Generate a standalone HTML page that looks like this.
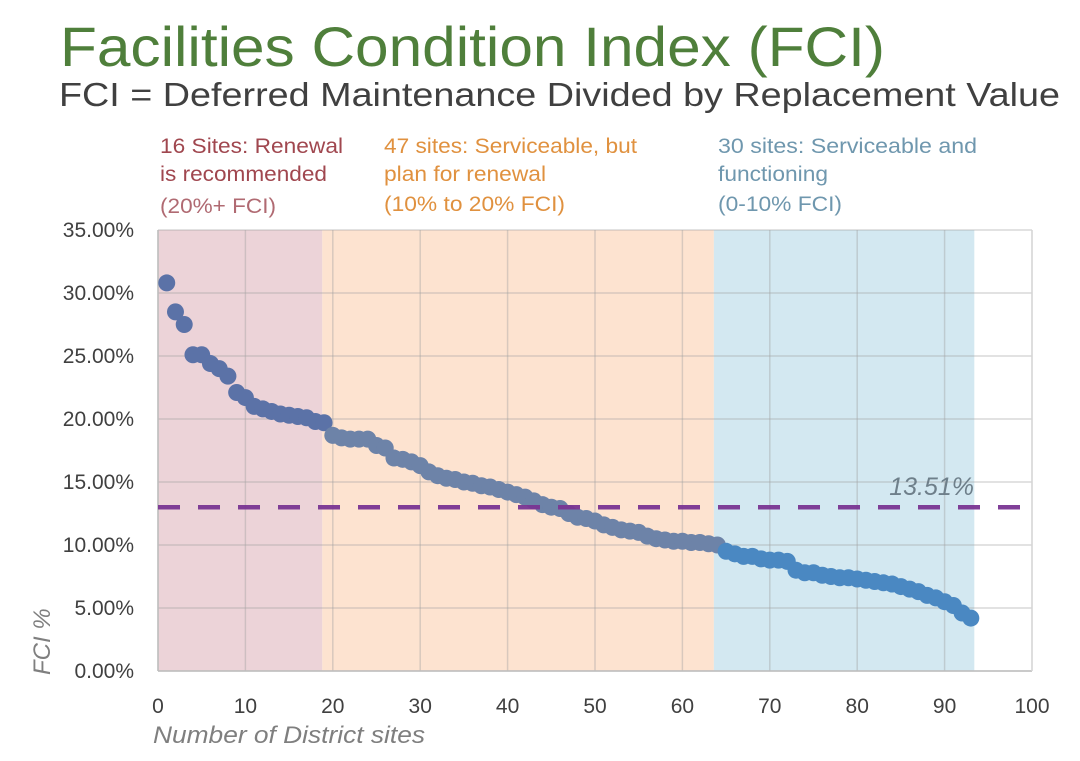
<!DOCTYPE html>
<html><head><meta charset="utf-8"><style>
body{margin:0;background:#fff;width:1080px;height:756px;overflow:hidden;font-family:"Liberation Sans",sans-serif}
</style></head><body>
<svg width="1080" height="756" font-family="Liberation Sans, sans-serif">
<text x="60" y="66" font-size="56" fill="#4f7f3b" textLength="825" lengthAdjust="spacingAndGlyphs">Facilities Condition Index (FCI)</text>
<text x="59" y="106" font-size="33" fill="#404040" textLength="1001" lengthAdjust="spacingAndGlyphs">FCI = Deferred Maintenance Divided by Replacement Value</text>
<g font-size="21">
<text x="160" y="153" fill="#a0474f"><tspan x="160" textLength="183" lengthAdjust="spacingAndGlyphs">16 Sites: Renewal</tspan><tspan x="160" dy="28" textLength="167" lengthAdjust="spacingAndGlyphs">is recommended</tspan><tspan x="160" dy="32" fill="#b06a72" textLength="116" lengthAdjust="spacingAndGlyphs">(20%+ FCI)</tspan></text>
<text x="384" y="153" fill="#e0913f"><tspan x="384" textLength="253" lengthAdjust="spacingAndGlyphs">47 sites: Serviceable, but</tspan><tspan x="384" dy="28" textLength="162" lengthAdjust="spacingAndGlyphs">plan for renewal</tspan><tspan x="384" dy="30" textLength="181" lengthAdjust="spacingAndGlyphs">(10% to 20% FCI)</tspan></text>
<text x="718" y="153" fill="#6f97ae"><tspan x="718" textLength="259" lengthAdjust="spacingAndGlyphs">30 sites:  Serviceable and</tspan><tspan x="718" dy="28" textLength="110" lengthAdjust="spacingAndGlyphs">functioning</tspan><tspan x="718" dy="30" textLength="124" lengthAdjust="spacingAndGlyphs">(0-10% FCI)</tspan></text>
</g>
<g id="plot"></g>
<text x="153" y="743" font-size="24" font-style="italic" fill="#7f7f7f" textLength="272" lengthAdjust="spacingAndGlyphs">Number of District sites</text>
<text transform="translate(50,675) rotate(-90)" font-size="24" font-style="italic" fill="#7f7f7f">FCI %</text>
</svg>
<script>
const fciValues=[30.8,28.5,27.5,25.1,25.1,24.4,24.0,23.4,22.1,21.7,21.0,20.8,20.6,20.4,20.3,20.2,20.1,19.8,19.7,18.7,18.5,18.4,18.4,18.4,17.9,17.7,16.9,16.8,16.6,16.3,15.8,15.5,15.3,15.2,15.0,14.9,14.7,14.6,14.4,14.2,14.0,13.8,13.5,13.2,13.0,12.9,12.5,12.2,12.1,11.9,11.6,11.4,11.2,11.1,11.0,10.7,10.5,10.4,10.3,10.3,10.2,10.2,10.1,10.0,9.5,9.3,9.1,9.1,8.9,8.8,8.8,8.7,8.0,7.8,7.8,7.6,7.5,7.4,7.4,7.3,7.2,7.1,7.0,6.9,6.7,6.5,6.3,6.0,5.8,5.5,5.2,4.6,4.2];
const xTicks=[0,10,20,30,40,50,60,70,80,90,100];
const yTicks=[0,5,10,15,20,25,30,35];
const bandStarts=[0,18.8,63.6];
const bandEnds=[18.8,63.6,93.4];
const meanLinePos=[13.0];
const meanLabel=["13.51%"];
const NS="http://www.w3.org/2000/svg";
const X0=158,X1=1032,Y0=671,Y1=230;
const sx=v=>X0+(X1-X0)*v/100, sy=v=>Y0-(Y0-Y1)*v/35;
const g=document.getElementById('plot');
function mk(t,a){const e=document.createElementNS(NS,t);for(const k in a)e.setAttribute(k,a[k]);g.appendChild(e);return e;}
const bandColors=['#ecd3d8','#fde3d0','#d3e8f1'];
bandStarts.forEach((s,i)=>{const r=mk('rect',{x:sx(s),y:Y1,width:sx(bandEnds[i])-sx(s),height:Y0-Y1,fill:bandColors[i]});

});
xTicks.forEach(t=>{const l=mk('line',{x1:sx(t),x2:sx(t),y1:Y1,y2:Y0,stroke:'rgba(160,160,160,0.4)','stroke-width':1.5});


const tx=mk('text',{x:sx(t),y:713,'font-size':21,fill:'#404040','text-anchor':'middle'});tx.textContent=t;

});
yTicks.forEach(t=>{const l=mk('line',{x1:X0,x2:X1,y1:sy(t),y2:sy(t),stroke:'rgba(160,160,160,0.4)','stroke-width':1.5});


const tx=mk('text',{x:134,y:sy(t)+7,'font-size':21,fill:'#404040','text-anchor':'end'});tx.textContent=t.toFixed(2)+'%';

});
const ax=mk('line',{x1:X0,x2:X0,y1:Y1,y2:Y0,stroke:'#bfbfbf','stroke-width':1.5});


const ax2=mk('line',{x1:X0,x2:X1,y1:Y0,y2:Y0,stroke:'#bfbfbf','stroke-width':1.5});


const ax3=mk('line',{x1:X1,x2:X1,y1:Y1,y2:Y0,stroke:'#d9d9d9','stroke-width':1.5});


fciValues.forEach((v,i)=>{const n=i+1;const c=n<=19?'#5b72a7':(n<=64?'#6d83a8':'#4a88c2');
const d=mk('circle',{cx:sx(n),cy:sy(v),r:8.5,fill:c});

});
const ml=mk('line',{x1:X0,x2:X1,y1:sy(meanLinePos[0]),y2:sy(meanLinePos[0]),stroke:'#7a3593','stroke-width':4.5,'stroke-dasharray':'22 18',opacity:0.95});


const mt=mk('text',{x:974,y:sy(meanLinePos[0])-12,'font-size':25,'font-style':'italic',fill:'#6e7f8a','text-anchor':'end'});mt.textContent=meanLabel[0];


</script>
</body></html>
